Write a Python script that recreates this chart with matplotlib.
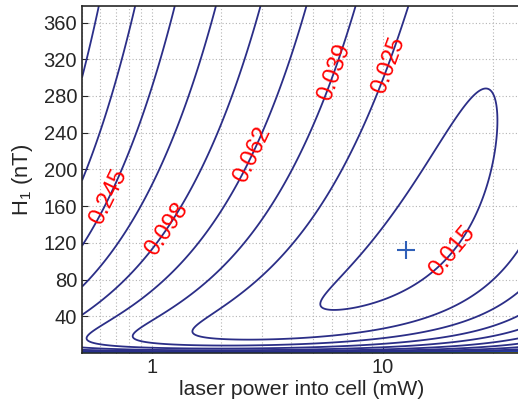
import numpy as np
import matplotlib
matplotlib.use("Agg")
import matplotlib.pyplot as plt
from matplotlib.colors import LinearSegmentedColormap, Normalize
from matplotlib.ticker import FixedLocator, NullFormatter

plt.rcParams['font.family'] = ['Liberation Sans', 'DejaVu Sans']
plt.rcParams['mathtext.default'] = 'regular'

# axis ranges: laser power (mW) and rf field H1 (nT)
power_range = (0.5, 40)
field_range = (0, 378)

# contour levels and the labelled ones, with label spots (mW, nT)
levels = [0.015, 0.025, 0.039, 0.062, 0.098, 0.156, 0.245, 0.39, 0.62,
          0.98, 1.56, 2.45, 3.9, 6.2, 9.8, 15.6, 24.5, 39, 62, 98, 156]
label_levels = [0.015, 0.025, 0.039, 0.062, 0.098, 0.245]
label_power = [18.6, 12.8, 6.2, 2.75, 1.2, 0.69]
label_field = [117, 306, 306, 216, 132, 167]

# marked optimum
best_power = 12.6
best_field = 112

# shape of the sensitivity map, fitted by eye to the drawn contours
k0 = 7.3e-4      # scale
p_low = 0.265    # low power penalty (mW)
p_high = 75.0    # high power penalty (mW)
w0 = 12.0        # optimum H1 at zero power (nT)
w1 = 7.7         # optimum H1 growth (nT/mW)

parula = LinearSegmentedColormap.from_list("parula", [
    (0.17, 0.18, 0.53), (0.070, 0.321, 0.878), (0.078, 0.504, 0.838),
    (0.023, 0.634, 0.764), (0.154, 0.708, 0.605), (0.442, 0.748, 0.441),
    (0.753, 0.738, 0.301), (0.991, 0.745, 0.239), (0.976, 0.983, 0.054)])

P = np.logspace(np.log10(power_range[0]), np.log10(power_range[1]), 500)
H = np.concatenate([np.geomspace(0.02, 5, 120), np.linspace(5.5, field_range[1], 700)])
PP, HH = np.meshgrid(P, H)
k = k0 * (1 + (p_low / PP) ** 1.4 + (PP / p_high) ** 1.5)
W = w0 + w1 * PP
F = k * (W ** 2 + HH ** 2) / (PP * HH)

fig = plt.figure(figsize=(5.18, 4.03), dpi=100)
ax = fig.add_axes([82 / 518, 1 - 353 / 403, 440 / 518, 347 / 403])
ax.set_xscale('log')

present = [l for l in levels if l < F.max()]
cs = ax.contour(PP, HH, F, levels=present, cmap=parula,
                norm=Normalize(present[0], present[-1]), linewidths=1.3)
# separate invisible set just for the labels
cs_lab = ax.contour(PP, HH, F, levels=label_levels, colors='none')
ax.clabel(cs_lab, inline=False, fmt='%.3f', colors='red',
          fontsize=17, manual=list(zip(label_power, label_field)))

ax.plot(best_power, best_field, '+', color='#3060b8', markersize=13, mew=1.5)

ax.set_xlim(*power_range)
ax.set_ylim(*field_range)
ax.xaxis.set_major_locator(FixedLocator([1, 10]))
ax.xaxis.set_minor_locator(FixedLocator([0.5, 0.6, 0.7, 0.8, 0.9, 2, 3, 4, 5, 6, 7, 8, 9, 20, 30, 40]))
ax.xaxis.set_minor_formatter(NullFormatter())
ax.set_xticklabels(['1', '10'])
ax.set_yticks(np.arange(40, 361, 40))
ax.grid(True, which='both', color='#b4b4b4', linestyle=(0, (1, 2)), linewidth=0.8)
ax.tick_params(which='both', direction='in', labelsize=14.5, colors='#262626', length=4)
ax.tick_params(which='minor', length=2.5)
for s in ax.spines.values():
    s.set_color('#262626')
    s.set_linewidth(1.2)

ax.set_xlabel('laser power into cell (mW)', fontsize=15.3, color='#262626', labelpad=2)
ax.set_ylabel('H$_1$ (nT)', fontsize=15.8, color='#262626', labelpad=6)

fig.savefig('out.png', dpi=100)
